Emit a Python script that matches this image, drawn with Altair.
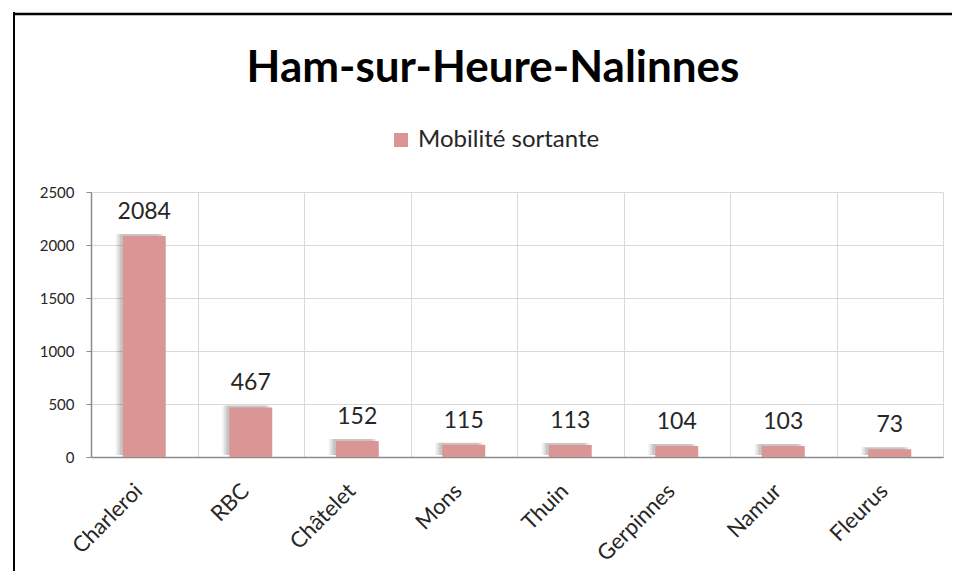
import altair as alt
import pandas as pd

categories = ["Charleroi", "RBC", "Châtelet", "Mons", "Thuin", "Gerpinnes", "Namur", "Fleurus"]
values = [2084, 467, 152, 115, 113, 104, 103, 73]
series_name = "Mobilité sortante"
title_text = "Ham-sur-Heure-Nalinnes"

df = pd.DataFrame({"cat": categories, "val": values, "serie": [series_name] * len(categories)})

FONT = "Lato"
BAR = "#D99694"
W, H = 852, 265

x_enc = alt.X("cat:N", sort=categories, title=None,
              scale=alt.Scale(paddingInner=0, paddingOuter=0),
              axis=alt.Axis(labelAngle=-45, labelFontSize=22, labelColor="#262626",
                            labelFont=FONT, tickBand="extent", grid=True, gridColor="#D9D9D9",
                            ticks=False, domainColor="#8C8C8C", domainWidth=1.5,
                            labelPadding=23, labelOffset=-13))
y_enc = alt.Y("val:Q", title=None,
              scale=alt.Scale(domain=[0, 2500], nice=False),
              axis=alt.Axis(values=[0, 500, 1000, 1500, 2000, 2500], format="d", labelFontSize=15,
                            labelColor="#262626", labelFont=FONT, gridColor="#D9D9D9",
                            tickColor="#8C8C8C", tickSize=5, domainColor="#8C8C8C",
                            domainWidth=1.5, labelPadding=12))

base = alt.Chart(df)

shadows = []
for off, op in [(-7, 0.06), (-5, 0.08), (-3, 0.1)]:
    shadows.append(
        base.mark_bar(size=43, color="#000000", opacity=op, xOffset=off, yOffset=-2)
        .encode(x=x_enc, y=y_enc)
    )

bars = base.mark_bar(size=43).encode(
    x=x_enc, y=y_enc,
    color=alt.Color("serie:N", scale=alt.Scale(range=[BAR]),
                    legend=alt.Legend(title=None, orient="none", legendX=298, legendY=-64,
                                      symbolType="square", symbolSize=196, labelFontSize=24,
                                      labelFont=FONT, labelColor="#262626", labelLimit=0,
                                      symbolStrokeWidth=0, labelOffset=5)),
)

labels = base.mark_text(baseline="bottom", dy=-12, fontSize=23, font=FONT, color="#262626").encode(
    x=x_enc, y=y_enc, text="val:Q")

frame_top = alt.Chart(pd.DataFrame({"a": [0]})).mark_rule(
    color="#000000", strokeWidth=2.5, clip=False
).encode(x=alt.value(-78), x2=alt.value(W + 9), y=alt.value(-178))
frame_left = alt.Chart(pd.DataFrame({"a": [0]})).mark_rule(
    color="#000000", strokeWidth=2, clip=False
).encode(x=alt.value(-77), y=alt.value(-180), y2=alt.value(H + 114))

chart = alt.layer(*shadows, bars, labels, frame_top, frame_left).properties(
    width=W, height=H,
    autosize=alt.AutoSizeParams(type="none"),
    padding={"left": 83, "top": 184, "right": 9, "bottom": 114},
    title=alt.TitleParams(title_text, fontSize=44, font=FONT, fontWeight="bold", color="#000000",
                          anchor="middle", dx=-24, offset=0, dy=80),
).configure_view(stroke=None)

chart.save("out.html", embed_options={"renderer": "svg", "actions": False})
